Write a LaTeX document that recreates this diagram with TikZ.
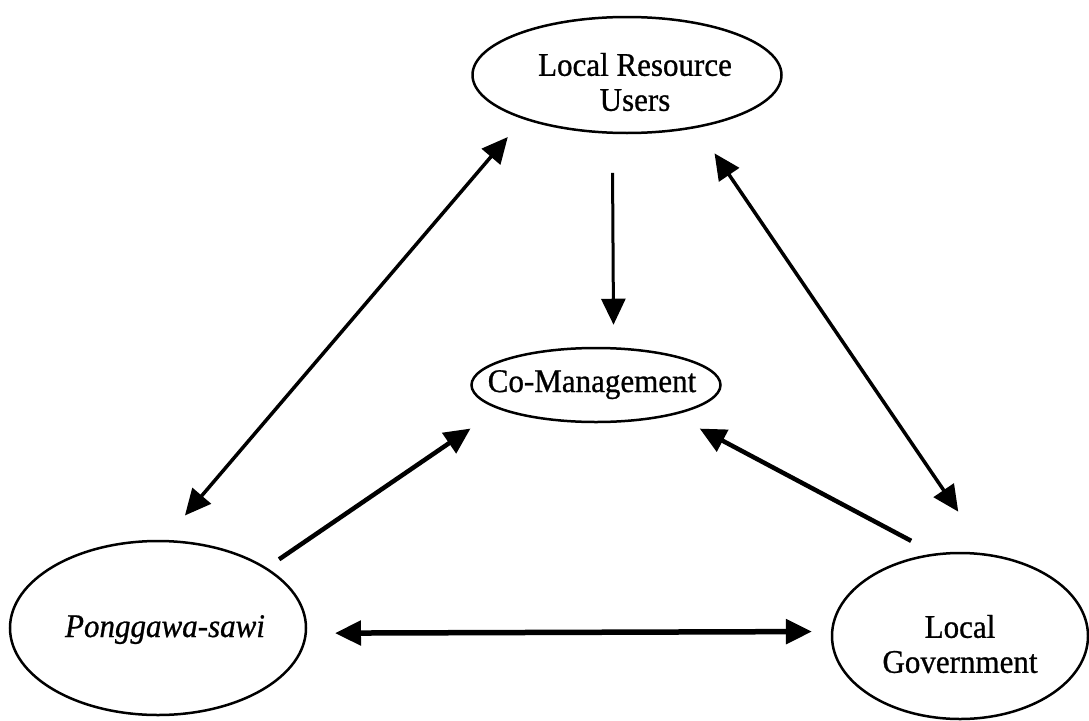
\documentclass[tikz,border=0pt]{standalone}
\usepackage{fontspec}
\setmainfont{Liberation Serif}[FakeStretch=0.94,FakeBold=0.8]
\usetikzlibrary{arrows.meta,shapes.geometric}
\begin{document}
\begin{tikzpicture}[x=1pt,y=-1pt,
  >={Triangle[length=26pt,width=24pt]},
  ell/.style={draw,ellipse,line width=2.5pt,inner sep=0pt},
  lbl/.style={inner sep=0pt,align=center,font=\fontsize{33}{35}\selectfont},
  one/.style={->},
  both/.style={<->}]
\useasboundingbox (0,0) rectangle (1089,720);
% ellipses
\node[ell,minimum width=309pt,minimum height=116pt] (lru) at (627,75) {};
\node[ell,minimum width=249pt,minimum height=74pt] (cm) at (596,385) {};
\node[ell,minimum width=296pt,minimum height=174pt] (pong) at (158,628) {};
\node[ell,minimum width=256pt,minimum height=166pt] (lg) at (960,636) {};
% texts
\node[lbl] (lrut) at (635,82) {Local Resource\\Users};
\node[lbl,anchor=base] (cmt) at (592,392) {Co-Management};
\node[lbl,anchor=base] (pongt) at (165,637) {\itshape Ponggawa-sawi};
\node[lbl] (lgt) at (960,644) {Local\\Government};
% connectors
\draw[both,line width=3.5pt,shorten <=32pt,shorten >=23.5pt] (pong.86) -- (lru.203);
\draw[one,line width=3pt,shorten <=39pt,shorten >=22.4pt] (lru.256) -- (cm.65);
\draw[both,line width=3.5pt,shorten <=30.8pt,shorten >=50.7pt] (lru.323) -- (lg.72);
\draw[one,line width=4.5pt,shorten <=14.8pt,shorten >=34.2pt] (pong.29) -- (cm.194);
\draw[one,line width=4.5pt,shorten <=26.7pt,shorten >=29pt] (lg.107) -- (cm.339);
\draw[both,line width=5.5pt,shorten <=28pt,shorten >=19pt] (pong.358) -- (lg.178);
\end{tikzpicture}
\end{document}
